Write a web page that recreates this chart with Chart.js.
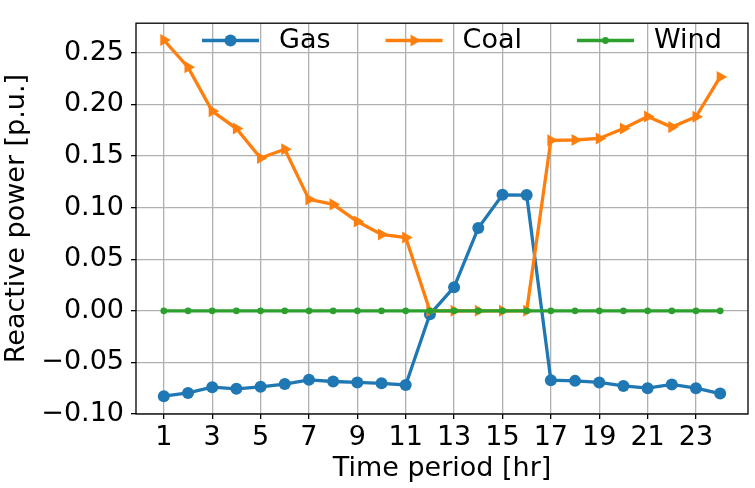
<!DOCTYPE html>
<html>
<head>
<meta charset="utf-8">
<script src="https://cdn.jsdelivr.net/npm/chart.js@4/dist/chart.umd.min.js"></script>
<style>
    html, body { margin: 0; padding: 0; background: #ffffff; }
    #wrap { width: 755px; height: 488px; }
</style>
</head>
<body>
<div id="wrap"><canvas id="reactiveChart" width="755" height="488"></canvas></div>
<script>
const hours = [1, 2, 3, 4, 5, 6, 7, 8, 9, 10, 11, 12, 13, 14, 15, 16, 17, 18, 19, 20, 21, 22, 23, 24];
const gasValues = [-0.0827, -0.0796, -0.0740, -0.0756, -0.0737, -0.0710, -0.0669, -0.0685, -0.0694, -0.0703, -0.0719, -0.0034,
    0.0229, 0.0803, 0.1124, 0.1122, -0.0673, -0.0679, -0.0694, -0.0728, -0.0750, -0.0713, -0.0750, -0.0802];
const coalValues = [0.2624, 0.2361, 0.1935, 0.1766, 0.1481, 0.1565, 0.1080, 0.1031, 0.0865, 0.0740, 0.0710, 0.0000,
    0.0000, 0.0000, 0.0000, 0.0000, 0.1652, 0.1655, 0.1670, 0.1766, 0.1883, 0.1780, 0.1880, 0.2266];
const windValues = [0, 0, 0, 0, 0, 0, 0, 0, 0, 0, 0, 0, 0, 0, 0, 0, 0, 0, 0, 0, 0, 0, 0, 0];
const xTickValues = [1, 3, 5, 7, 9, 11, 13, 15, 17, 19, 21, 23];
const yTickValues = [-0.10, -0.05, 0.00, 0.05, 0.10, 0.15, 0.20, 0.25];

const FONT = 'DejaVu Sans';
const FONT_SIZE = 27;

function toPoints(values) {
    return hours.map((h, i) => ({ x: h, y: values[i] }));
}

// legend without frame, line + marker like matplotlib
const lineLegend = {
    id: 'lineLegend',
    afterDatasetsDraw(chart) {
        const ctx = chart.ctx;
        const y = 40.5;
        let x = 202;
        ctx.save();
        ctx.font = FONT_SIZE + 'px "' + FONT + '"';
        ctx.textBaseline = 'middle';
        ctx.textAlign = 'left';
        chart.data.datasets.forEach(ds => {
            ctx.strokeStyle = ds.borderColor;
            ctx.lineWidth = ds.borderWidth;
            ctx.beginPath();
            ctx.moveTo(x, y);
            ctx.lineTo(x + 57, y);
            ctx.stroke();
            const cx = x + 28.5;
            const r = ds.pointRadius;
            ctx.fillStyle = ds.borderColor;
            ctx.beginPath();
            if (ds.pointStyle === 'triangle') {
                ctx.moveTo(cx + r, y);
                ctx.lineTo(cx - r / 2, y - r * 0.866);
                ctx.lineTo(cx - r / 2, y + r * 0.866);
                ctx.closePath();
            } else {
                ctx.arc(cx, y, r, 0, Math.PI * 2);
            }
            ctx.fill();
            ctx.fillStyle = '#000000';
            ctx.fillText(ds.label, x + 77, y);
            x += 77 + ctx.measureText(ds.label).width + 55;
        });
        ctx.restore();
    },
    afterDraw(chart) {
        const a = chart.chartArea;
        const ctx = chart.ctx;
        ctx.save();
        ctx.strokeStyle = '#000000';
        ctx.lineWidth = 1.3;
        ctx.strokeRect(a.left, a.top, a.right - a.left, a.bottom - a.top);
        ctx.restore();
    }
};

new Chart(document.getElementById('reactiveChart'), {
    type: 'line',
    data: {
        datasets: [
            {
                label: 'Gas',
                data: toPoints(gasValues),
                borderColor: '#1f77b4',
                backgroundColor: '#1f77b4',
                borderWidth: 3.3,
                pointStyle: 'circle',
                pointRadius: 6,
                pointBorderWidth: 0,
                order: 3
            },
            {
                label: 'Coal',
                data: toPoints(coalValues),
                borderColor: '#ff7f0e',
                backgroundColor: '#ff7f0e',
                borderWidth: 3.3,
                pointStyle: 'triangle',
                pointRotation: 90,
                pointRadius: 7,
                pointBorderWidth: 0,
                order: 2
            },
            {
                label: 'Wind',
                data: toPoints(windValues),
                borderColor: '#2ca02c',
                backgroundColor: '#2ca02c',
                borderWidth: 3.3,
                pointStyle: 'circle',
                pointRadius: 3.4,
                pointBorderWidth: 0,
                order: 1
            }
        ]
    },
    options: {
        responsive: false,
        animation: false,
        devicePixelRatio: 1,
        layout: {
            padding: { top: 4, right: 1, left: 0, bottom: 0 }
        },
        elements: {
            line: { tension: 0 }
        },
        plugins: {
            legend: { display: false },
            tooltip: { enabled: false }
        },
        scales: {
            x: {
                type: 'linear',
                min: -0.15,
                max: 25.15,
                afterBuildTicks: scale => {
                    scale.ticks = xTickValues.map(v => ({ value: v }));
                },
                afterFit: scale => { scale.height = 74; },
                border: { display: false },
                grid: {
                    color: '#b0b0b0',
                    lineWidth: 1.3,
                    drawTicks: true,
                    tickLength: 5,
                    tickColor: '#000000',
                    tickWidth: 1.3
                },
                ticks: {
                    color: '#000000',
                    font: { family: FONT, size: FONT_SIZE },
                    padding: 2.5,
                    maxRotation: 0,
                    autoSkip: false,
                    callback: v => String(v)
                },
                title: {
                    display: true,
                    text: 'Time period [hr]',
                    color: '#000000',
                    font: { family: FONT, size: FONT_SIZE },
                    padding: { top: 0, bottom: 3 }
                }
            },
            y: {
                min: -0.10,
                max: 0.2787,
                afterBuildTicks: scale => {
                    scale.ticks = yTickValues.map(v => ({ value: v }));
                },
                afterFit: scale => { scale.width = 136; },
                border: { display: false },
                grid: {
                    color: '#b0b0b0',
                    lineWidth: 1.3,
                    drawTicks: true,
                    tickLength: 5,
                    tickColor: '#000000',
                    tickWidth: 1.3
                },
                ticks: {
                    color: '#000000',
                    font: { family: FONT, size: FONT_SIZE },
                    padding: 7,
                    autoSkip: false,
                    callback: v => v.toFixed(2).replace('-', '\u2212')
                },
                title: {
                    display: true,
                    text: 'Reactive power [p.u.]',
                    color: '#000000',
                    font: { family: FONT, size: FONT_SIZE },
                    padding: { top: 0.5, bottom: 0 }
                }
            }
        }
    },
    plugins: [lineLegend]
});
</script>
</body>
</html>
